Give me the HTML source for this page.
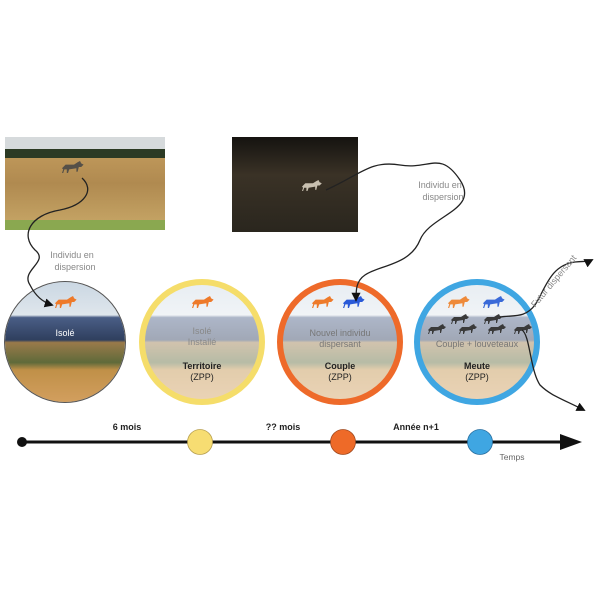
<!DOCTYPE html>
<html><head><meta charset="utf-8"><style>
body{margin:0;width:600px;height:600px;background:#fff;overflow:hidden;font-family:"Liberation Sans",sans-serif}
</style></head><body>
<svg width="600" height="600" viewBox="0 0 600 600" xmlns="http://www.w3.org/2000/svg">
<defs>
<linearGradient id="land" x1="0" y1="0" x2="0" y2="1">
<stop offset="0" stop-color="#c9d6e2"/><stop offset="0.28" stop-color="#dfe6ec"/>
<stop offset="0.3" stop-color="#4a5e86"/><stop offset="0.48" stop-color="#2f3f5e"/>
<stop offset="0.5" stop-color="#9a7a4a"/><stop offset="0.66" stop-color="#5f6a3a"/>
<stop offset="0.72" stop-color="#c09048"/><stop offset="1" stop-color="#d4a060"/>
</linearGradient>
<linearGradient id="field" x1="0" y1="0" x2="0" y2="1">
<stop offset="0" stop-color="#c8a060"/><stop offset="0.5" stop-color="#b08a50"/><stop offset="1" stop-color="#c8a868"/>
</linearGradient>
<linearGradient id="night" x1="0" y1="0" x2="0" y2="1">
<stop offset="0" stop-color="#151310"/><stop offset="0.4" stop-color="#3a3226"/><stop offset="1" stop-color="#2a261e"/>
</linearGradient>
<clipPath id="c1"><circle cx="65" cy="342" r="60"/></clipPath>
<clipPath id="c2"><circle cx="202" cy="342" r="60"/></clipPath>
<clipPath id="c3"><circle cx="340" cy="342" r="60"/></clipPath>
<clipPath id="c4"><circle cx="477" cy="342" r="60"/></clipPath>
<marker id="ah" viewBox="0 0 10 10" refX="8" refY="5" markerWidth="7" markerHeight="7" orient="auto"><path d="M0,0L10,5L0,10z" fill="#111"/></marker>
<path id="wolf" d="M0,6 L3,3 L10,3 L13,1 L15,0 L16,2 L18,3 L16,5 L14,5 L13,9 L12,9 L12,6 L6,7 L5,10 L4,10 L4,7 L2,7 L1,10 L0,10 L1,7 Z"/>
</defs>

<!-- photo 1 -->
<rect x="5" y="137" width="160" height="93" fill="url(#field)"/>
<rect x="5" y="137" width="160" height="13" fill="#d6dadc"/>
<rect x="5" y="149" width="160" height="9" fill="#2c3a24"/>
<rect x="5" y="220" width="160" height="10" fill="#8aa850"/>
<g transform="translate(62,161) scale(1.2)" fill="#555048"><use href="#wolf"/></g>
<!-- photo 2 -->
<rect x="232" y="137" width="126" height="95" fill="url(#night)"/>
<g transform="translate(302,180) scale(1.1)" fill="#c8c0b0"><use href="#wolf"/></g>

<!-- circles -->
<g clip-path="url(#c1)"><rect x="0" y="280" width="130" height="125" fill="url(#land)"/></g>
<circle cx="65" cy="342" r="60.5" fill="none" stroke="#555" stroke-width="1"/>
<g clip-path="url(#c2)"><rect x="140" y="280" width="130" height="125" fill="url(#land)"/><rect x="140" y="280" width="130" height="125" fill="#fff" opacity="0.55"/></g>
<circle cx="202" cy="342" r="60" fill="none" stroke="#f5dd6a" stroke-width="6"/>
<g clip-path="url(#c3)"><rect x="278" y="280" width="130" height="125" fill="url(#land)"/><rect x="278" y="280" width="130" height="125" fill="#fff" opacity="0.55"/></g>
<circle cx="340" cy="342" r="60" fill="none" stroke="#ee6a2a" stroke-width="6"/>
<g clip-path="url(#c4)"><rect x="415" y="280" width="130" height="125" fill="url(#land)"/><rect x="415" y="280" width="130" height="125" fill="#fff" opacity="0.55"/></g>
<circle cx="477" cy="342" r="60" fill="none" stroke="#3fa6e2" stroke-width="6"/>

<!-- wolves -->
<g transform="translate(55,296) scale(1.2)" fill="#ee7a2a"><use href="#wolf"/></g>
<g transform="translate(192,296) scale(1.2)" fill="#ee7a2a"><use href="#wolf"/></g>
<g transform="translate(312,296) scale(1.2)" fill="#ee7a2a"><use href="#wolf"/></g>
<g transform="translate(343,296) scale(1.2)" fill="#2a5ad8"><use href="#wolf"/></g>
<g transform="translate(448,296) scale(1.2)" fill="#ee8a3a"><use href="#wolf"/></g>
<g transform="translate(483,296) scale(1.2)" fill="#3a6ad8"><use href="#wolf"/></g>
<g fill="#3a3a3a">
<use href="#wolf" x="451" y="314"/><use href="#wolf" x="484" y="314"/>
<use href="#wolf" x="428" y="324"/><use href="#wolf" x="459" y="324"/><use href="#wolf" x="488" y="324"/><use href="#wolf" x="514" y="324"/>
</g>

<!-- labels in circles -->
<g font-size="9" text-anchor="middle">
<text x="65" y="336" fill="#fff">Isolé</text>
<text x="202" y="334" fill="#888">Isolé</text>
<text x="202" y="345" fill="#888">Installé</text>
<text x="202" y="369" fill="#222" font-weight="bold">Territoire</text>
<text x="202" y="380" fill="#222">(ZPP)</text>
<text x="340" y="336" fill="#777">Nouvel individu</text>
<text x="340" y="347" fill="#777">dispersant</text>
<text x="340" y="369" fill="#222" font-weight="bold">Couple</text>
<text x="340" y="380" fill="#222">(ZPP)</text>
<text x="477" y="347" fill="#777">Couple + louveteaux</text>
<text x="477" y="369" fill="#222" font-weight="bold">Meute</text>
<text x="477" y="380" fill="#222">(ZPP)</text>
</g>

<!-- connectors -->
<g fill="none" stroke="#222" stroke-width="1.3">
<path d="M82,178 C95,190 85,205 60,210 C30,215 20,235 35,250 C50,262 20,270 30,285 C35,295 42,302 52,305" marker-end="url(#ah)"/>
<path d="M326,190 C360,175 370,160 400,165 C430,170 440,150 460,180 C480,210 430,215 420,240 C410,265 380,265 365,275 C356,281 356,290 356,300" marker-end="url(#ah)"/>
<path d="M500,317 C515,315 525,318 535,305 C545,290 550,265 575,262 C585,261 588,262 592,260" marker-end="url(#ah)"/>
<path d="M522,330 C530,335 530,370 540,385 C550,395 560,398 584,410" marker-end="url(#ah)"/>
</g>
<g font-size="9" fill="#888" text-anchor="middle">
<text x="72" y="258">Individu en</text>
<text x="75" y="270">dispersion</text>
<text x="440" y="188">Individu en</text>
<text x="443" y="200">dispersion</text>
<text x="556" y="283" transform="rotate(-50 556 283)">Futur dispersant</text>
</g>

<!-- timeline -->
<line x1="22" y1="442" x2="570" y2="442" stroke="#111" stroke-width="3"/>
<path d="M560,434 L582,442 L560,450 z" fill="#111"/>
<circle cx="22" cy="442" r="5" fill="#111"/>
<circle cx="200" cy="442" r="12.5" fill="#f7dd72" stroke="#b8a050" stroke-width="0.8"/>
<circle cx="343" cy="442" r="12.5" fill="#ee6a28" stroke="#a04a20" stroke-width="0.8"/>
<circle cx="480" cy="442" r="12.5" fill="#3fa6e2" stroke="#2a70a0" stroke-width="0.8"/>
<g font-size="9" font-weight="bold" fill="#222" text-anchor="middle">
<text x="127" y="430">6 mois</text>
<text x="283" y="430">?? mois</text>
<text x="416" y="430">Année n+1</text>
</g>
<text x="512" y="460" font-size="8.5" fill="#666" text-anchor="middle">Temps</text>
</svg>
</body></html>
